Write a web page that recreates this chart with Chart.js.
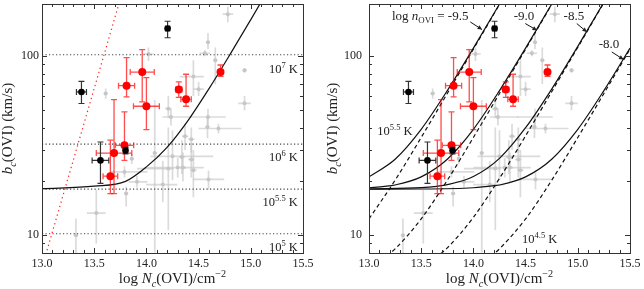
<!DOCTYPE html>
<html>
<head>
<meta charset="utf-8">
<script src="https://cdn.jsdelivr.net/npm/chart.js@4.4.1/dist/chart.umd.min.js"></script>
<style>
  html, body { margin: 0; padding: 0; background: #fff; }
  .row { display: flex; width: 644px; height: 289px; }
  canvas { display: block; }
</style>
</head>
<body>
<div class="row">
  <canvas id="chart-left" width="322" height="289"></canvas>
  <canvas id="chart-right" width="322" height="289"></canvas>
</div>
<script>
// ---- axes ----
const xTicks = [13.0, 13.5, 14.0, 14.5, 15.0, 15.5];
const yTicks = [10, 100];
const yMinor = [8, 9, 20, 30, 40, 50, 60, 70, 80, 90];

// ---- grey comparison sample: log N, b, N errors (-/+), b range ----
const greyN    = [14.02, 13.61, 14.78, 14.59, 14.56, 14.66, 14.94, 14.94, 14.21, 14.235, 14.45, 14.50, 14.59, 14.585, 14.69, 14.37, 14.43, 14.08, 14.25, 14.34, 14.43, 14.30, 14.35, 14.45, 14.595, 14.157, 13.86, 13.79, 13.91, 13.806, 13.52, 13.325, 14.21];
const greyB    = [103, 62, 172, 120, 104, 95, 83.5, 54.6, 51, 45.8, 77, 65.5, 45.8, 40.3, 39.5, 35.7, 34.4, 28.8, 27.6, 27.4, 26.5, 23.9, 23.9, 23.1, 20.5, 19.2, 26.8, 22.6, 19.9, 17.1, 13.3, 10.0, 23.6];
const greyNlo  = [0.05, 0.02, 0.05, 0.02, 0.05, 0.02, 0.02, 0.06, 0.03, 0.08, 0.13, 0.05, 0.17, 0.02, 0.19, 0.03, 0.03, 0.02, 0.21, 0.03, 0.03, 0.30, 0.03, 0.03, 0.15, 0.16, 0.02, 0.13, 0.08, 0.02, 0.09, 0.02, 0.30];
const greyNhi  = [0.05, 0.02, 0.05, 0.02, 0.05, 0.02, 0.02, 0.06, 0.03, 0.20, 0.10, 0.05, 0.17, 0.02, 0.22, 0.03, 0.03, 0.02, 0.39, 0.03, 0.03, 0.25, 0.03, 0.03, 0.15, 0.14, 0.02, 0.22, 0.10, 0.02, 0.09, 0.02, 0.05];
const greyBlo  = [94, 58, 155, 110, 100, 70, 81, 50, 45, 41, 60, 60, 41, 35, 37, 30, 29, 8, 20.3, 22, 21, 21, 20, 16.3, 18, 15.3, 25, 21, 18.5, 14.5, 9.0, 7.9, 10.7];
const greyBhi  = [112, 66, 190, 135, 108, 112, 86, 60, 60, 51, 95, 72, 51, 46, 42, 42, 40, 57, 38.6, 34, 33, 27, 29, 30, 23, 26, 28.5, 24.3, 21.5, 18.7, 17.9, 12.4, 40];

// ---- red components ----
const redN    = [13.81, 13.96, 14.00, 14.31, 14.38, 14.71, 13.79, 13.69, 13.655];
const redB    = [68.5, 81.6, 52.6, 65.2, 57.5, 81.6, 31.8, 28.8, 21.4];
const redNerr = [0.077, 0.115, 0.124, 0.03, 0.05, 0.02, 0.088, 0.17, 0.07];
const redBlo  = [59.3, 55.6, 38.9, 59, 52.6, 77.3, 26.2, 17.1, 17.1];
const redBhi  = [98.3, 109, 76, 72, 79.4, 89.4, 48.9, 57.3, 34];

// ---- black components ----
const blackN    = [13.378, 14.203, 13.56, 13.80];
const blackB    = [63.2, 143, 26.2, 29.8];
const blackNerr = [0.048, 0.02, 0.08, 0.01];
const blackBlo  = [54.5, 127, 19.5, 28.5];
const blackBhi  = [72.5, 157, 33.2, 31];

// ---- left panel lines ----
const tempExp = ['7', '6', '5.5', '5'];
const tempB   = [102, 32.3, 18.1, 10.2];
const tempLabelB = [85.8, 27.4, 15.5, 8.7];
const leftCurveN = [13.0, 13.5, 13.8, 14.0, 14.2, 14.4, 14.6, 14.8, 15.0, 15.15];
const leftCurveB = [18.2, 18.8, 20.0, 24.1, 31.1, 43.9, 66.0, 102.2, 160.4, 226];
const redLineN = [13.0, 13.75];
const redLineB = [6.6, 209];

// ---- right panel density tracks (solid 10^5.5 K, dashed 10^4.5 K) ----
const nLabels = ['-9.5', '-9.0', '-8.5', '-8.0'];
const trackN = [
  [13.0, 13.25, 13.5, 13.75, 14.0, 14.25, 14.3],
  [13.0, 13.15, 13.25, 13.5, 13.75, 14.0, 14.25, 14.5, 14.75, 14.8],
  [13.0, 13.5, 13.65, 13.75, 14.0, 14.25, 14.5, 14.75, 15.0, 15.25, 15.3],
  [13.0, 13.5, 14.0, 14.2, 14.25, 14.5, 14.75, 15.0, 15.25, 15.5, 15.55]
];
const trackSolidB = [
  [21.2, 26.6, 39.1, 64.3, 111.1, 195.8, 219.7],
  [18.43, 18.75, 19.1, 21.2, 26.6, 39.1, 64.3, 111.1, 195.8, 219.7],
  [18.13, 18.45, 18.78, 19.17, 21.3, 26.9, 39.9, 65.6, 113.7, 200.3, 224.7],
  [18.1, 18.13, 18.43, 18.92, 19.1, 21.2, 26.6, 39.1, 64.3, 111.1, 124.3]
];
const trackDashB = [
  [12.35, 20.3, 35.2, 62.0, 109.7, 195.1, 219.1],
  [6.67, 7.52, 8.40, 12.35, 20.3, 35.2, 62.0, 109.7, 195.1, 219.1],
  [5.81, 6.71, 7.59, 8.5, 12.6, 20.8, 35.95, 63.4, 112.3, 199.6, 224.1],
  [5.71, 5.8, 6.67, 7.92, 8.4, 12.35, 20.3, 35.2, 62.0, 109.7, 123.1]
];
const nLabelN = [13.22, 14.386, 14.864, 15.2];
const nLabelB = [169, 169, 169, 117.8];
const arrowFromN = [13.97, 14.497, 14.99, 15.326];
const arrowFromB = [155.6, 152.4, 152.4, 105.7];
const arrowToN = [14.083, 14.609, 15.087, 15.438];
const arrowToB = [141, 139.7, 136.7, 95.9];

const FONT = 'Liberation Serif';
Chart.defaults.font.family = '"Liberation Serif", "DejaVu Serif", serif';
Chart.defaults.font.size = 12;
Chart.defaults.color = '#222';

function pts(xs, ys) { return xs.map((x, i) => ({ x, y: ys[i] })); }

function line(xs, ys, opts) {
  return Object.assign({
    data: pts(xs, ys), showLine: true, pointRadius: 0, borderColor: '#111',
    borderWidth: 1.2, cubicInterpolationMode: 'monotone', order: 3
  }, opts || {});
}

function sampleSets() {
  return [
    { data: pts(blackN, blackB), pointRadius: 3.3, pointBackgroundColor: '#000', pointBorderWidth: 0, order: 0,
      err: { nLo: blackNerr, nHi: blackNerr, bLo: blackBlo, bHi: blackBhi, color: '#333', width: 1.2, cap: 3 } },
    { data: pts(redN, redB), pointRadius: 4, pointBackgroundColor: '#ff0000', pointBorderWidth: 0, order: 1,
      err: { nLo: redNerr, nHi: redNerr, bLo: redBlo, bHi: redBhi, color: 'rgba(255,0,0,0.7)', width: 1.3, cap: 3 } },
    { data: pts(greyN, greyB), pointRadius: 2, pointBackgroundColor: '#c6c6c6', pointBorderWidth: 0, order: 5,
      err: { nLo: greyNlo, nHi: greyNhi, bLo: greyBlo, bHi: greyBhi, color: 'rgba(195,195,195,0.6)', width: 1.7, cap: 0 } }
  ];
}

// error bars drawn just before their own dataset
const errorBars = {
  id: 'errorBars',
  beforeDatasetDraw(chart, args) {
    const ds = chart.data.datasets[args.index];
    if (!ds.err) return;
    const { ctx, chartArea: a, scales: { x, y } } = chart;
    const e = ds.err;
    ctx.save();
    ctx.beginPath(); ctx.rect(a.left, a.top, a.width, a.height); ctx.clip();
    ctx.strokeStyle = e.color; ctx.lineWidth = e.width;
    ds.data.forEach((p, i) => {
      const px = x.getPixelForValue(p.x), py = y.getPixelForValue(p.y);
      const x0 = x.getPixelForValue(p.x - e.nLo[i]), x1 = x.getPixelForValue(p.x + e.nHi[i]);
      const y0 = y.getPixelForValue(e.bLo[i]), y1 = y.getPixelForValue(e.bHi[i]);
      ctx.beginPath();
      ctx.moveTo(x0, py); ctx.lineTo(x1, py);
      ctx.moveTo(px, y0); ctx.lineTo(px, y1);
      if (e.cap) {
        ctx.moveTo(x0, py - e.cap); ctx.lineTo(x0, py + e.cap);
        ctx.moveTo(x1, py - e.cap); ctx.lineTo(x1, py + e.cap);
        ctx.moveTo(px - e.cap, y0); ctx.lineTo(px + e.cap, y0);
        ctx.moveTo(px - e.cap, y1); ctx.lineTo(px + e.cap, y1);
      }
      ctx.stroke();
    });
    ctx.restore();
  }
};

// frame + inward ticks on all four sides
const frameTicks = {
  id: 'frameTicks',
  afterDatasetsDraw(chart) {
    const { ctx, chartArea: a, scales: { x, y } } = chart;
    ctx.save();
    ctx.strokeStyle = '#333'; ctx.lineWidth = 1;
    ctx.beginPath();
    for (let k = 0; k <= 25; k++) {
      const v = 13 + k * 0.1;
      const px = Math.round(x.getPixelForValue(v)) + 0.5;
      const len = k % 5 === 0 ? 5 : 3;
      ctx.moveTo(px, a.bottom); ctx.lineTo(px, a.bottom - len);
      ctx.moveTo(px, a.top); ctx.lineTo(px, a.top + len);
    }
    yTicks.concat(yMinor).forEach(v => {
      const py = Math.round(y.getPixelForValue(v)) + 0.5;
      const len = yTicks.includes(v) ? 5 : 3;
      ctx.moveTo(a.left, py); ctx.lineTo(a.left + len, py);
      ctx.moveTo(a.right, py); ctx.lineTo(a.right - len, py);
    });
    ctx.stroke();
    ctx.strokeRect(Math.round(a.left) + 0.5, Math.round(a.top) + 0.5, Math.round(a.width), Math.round(a.height));
    ctx.restore();
  }
};

function setFont(ctx, kind, size) {
  const italic = kind === 'i' || kind === 'isub';
  const s = (kind === 'r' || kind === 'i') ? size : size * 0.68;
  ctx.font = (italic ? 'italic ' : '') + s + 'px "' + FONT + '"';
}

function drawRich(ctx, parts, x, y, size, align) {
  let w = 0;
  parts.forEach(([t, k]) => { setFont(ctx, k, size); w += ctx.measureText(t).width; });
  let cx = align === 'right' ? x - w : align === 'center' ? x - w / 2 : x;
  ctx.textAlign = 'left'; ctx.textBaseline = 'alphabetic';
  parts.forEach(([t, k]) => {
    setFont(ctx, k, size);
    const dy = k === 'sup' ? -size * 0.4 : (k === 'sub' || k === 'isub') ? size * 0.25 : 0;
    ctx.fillText(t, cx, y + dy);
    cx += ctx.measureText(t).width;
  });
}

function arrow(ctx, x0, y0, x1, y1) {
  ctx.beginPath(); ctx.moveTo(x0, y0); ctx.lineTo(x1, y1); ctx.stroke();
  const ang = Math.atan2(y1 - y0, x1 - x0), h = 5;
  ctx.beginPath(); ctx.moveTo(x1, y1);
  ctx.lineTo(x1 - h * Math.cos(ang - 0.45), y1 - h * Math.sin(ang - 0.45));
  ctx.lineTo(x1 - h * Math.cos(ang + 0.45), y1 - h * Math.sin(ang + 0.45));
  ctx.closePath(); ctx.fill();
}

function axisTitles(chart, yTitleX) {
  const { ctx, chartArea: a } = chart;
  ctx.save();
  ctx.fillStyle = '#222';
  drawRich(ctx, [['log ', 'r'], ['N', 'i'], ['c', 'isub'], ['(OVI)/cm', 'r'], ['\u22122', 'sup']],
    (a.left + a.right) / 2, 283, 15, 'center');
  ctx.translate(yTitleX, (a.top + a.bottom) / 2);
  ctx.rotate(-Math.PI / 2);
  drawRich(ctx, [['b', 'i'], ['c', 'isub'], ['(OVI) (km/s)', 'r']], 0, 0, 15, 'center');
  ctx.restore();
}

function makeChart(id, lineSets, yWidth, tickPad, padRight, textFn) {
  const canvas = document.getElementById(id);
  return new Chart(canvas.getContext('2d'), {
    type: 'scatter',
    data: { datasets: sampleSets().concat(lineSets) },
    options: {
      responsive: false,
      animation: false,
      layout: { padding: { top: 4, right: padRight, left: 0, bottom: 0 } },
      scales: {
        x: {
          type: 'linear', min: 13, max: 15.5,
          grid: { display: false, drawTicks: false, tickLength: 0 }, border: { display: false },
          ticks: { stepSize: 0.5, autoSkip: false, maxRotation: 0, padding: 4,
            callback: v => xTicks.some(t => Math.abs(t - v) < 1e-6) ? v.toFixed(1) : null },
          afterFit(s) { s.height = 36; s.paddingLeft = 0; s.paddingRight = 0; }
        },
        y: {
          type: 'logarithmic', min: 7.96, max: 196,
          grid: { display: false, drawTicks: false, tickLength: 0 }, border: { display: false },
          ticks: { autoSkip: false, padding: tickPad,
            callback: v => yTicks.some(t => Math.abs(t - v) < 1e-6) ? String(Math.round(v)) : null },
          afterFit(s) { s.width = yWidth; s.paddingTop = 0; s.paddingBottom = 0; }
        }
      },
      plugins: { legend: { display: false }, tooltip: { enabled: false } }
    },
    plugins: [errorBars, frameTicks, { id: 'panelText', afterDraw: textFn }]
  });
}

// ---- left panel ----
const leftLines = [];
tempB.forEach(b => leftLines.push(line([13, 15.5], [b, b], { borderColor: '#444', borderWidth: 1.1, borderDash: [1.2, 2.3], cubicInterpolationMode: 'default', order: 4 })));
leftLines.push(line(redLineN, redLineB, { borderColor: '#ff2020', borderWidth: 1.2, borderDash: [1.3, 3.2], cubicInterpolationMode: 'default' }));
leftLines.push(line(leftCurveN, leftCurveB, {}));

makeChart('chart-left', leftLines, 42, 3, 19, chart => {
  const { ctx, scales: { x, y } } = chart;
  ctx.save();
  ctx.fillStyle = '#222';
  tempExp.forEach((e, i) => {
    drawRich(ctx, [['10', 'r'], [e, 'sup'], [' K', 'r']], x.getPixelForValue(15.45), y.getPixelForValue(tempLabelB[i]) + 4.5, 12.5, 'right');
  });
  ctx.restore();
  axisTitles(chart, 12);
});

// ---- right panel ----
const rightLines = [];
trackN.forEach((ns, i) => {
  rightLines.push(line(ns, trackSolidB[i], {}));
  rightLines.push(line(ns, trackDashB[i], { borderDash: [4, 3] }));
});

makeChart('chart-right', rightLines, 47, 7, 14, chart => {
  const { ctx, scales: { x, y } } = chart;
  ctx.save();
  ctx.fillStyle = '#222'; ctx.strokeStyle = '#111'; ctx.lineWidth = 1;
  nLabels.forEach((lab, i) => {
    const parts = i === 0 ? [['log ', 'r'], ['n', 'i'], ['OVI', 'sub'], [' = ' + lab, 'r']] : [[lab, 'r']];
    drawRich(ctx, parts, x.getPixelForValue(nLabelN[i]), y.getPixelForValue(nLabelB[i]) + 4.5, 13, 'left');
    arrow(ctx, x.getPixelForValue(arrowFromN[i]), y.getPixelForValue(arrowFromB[i]),
      x.getPixelForValue(arrowToN[i]), y.getPixelForValue(arrowToB[i]));
  });
  drawRich(ctx, [['10', 'r'], ['5.5', 'sup'], [' K', 'r']], x.getPixelForValue(13.08), y.getPixelForValue(38.7) + 4.5, 12.5, 'left');
  drawRich(ctx, [['10', 'r'], ['4.5', 'sup'], [' K', 'r']], x.getPixelForValue(14.466), y.getPixelForValue(9.6) + 4.5, 12.5, 'left');
  ctx.restore();
  axisTitles(chart, 15);
});
</script>
</body>
</html>
